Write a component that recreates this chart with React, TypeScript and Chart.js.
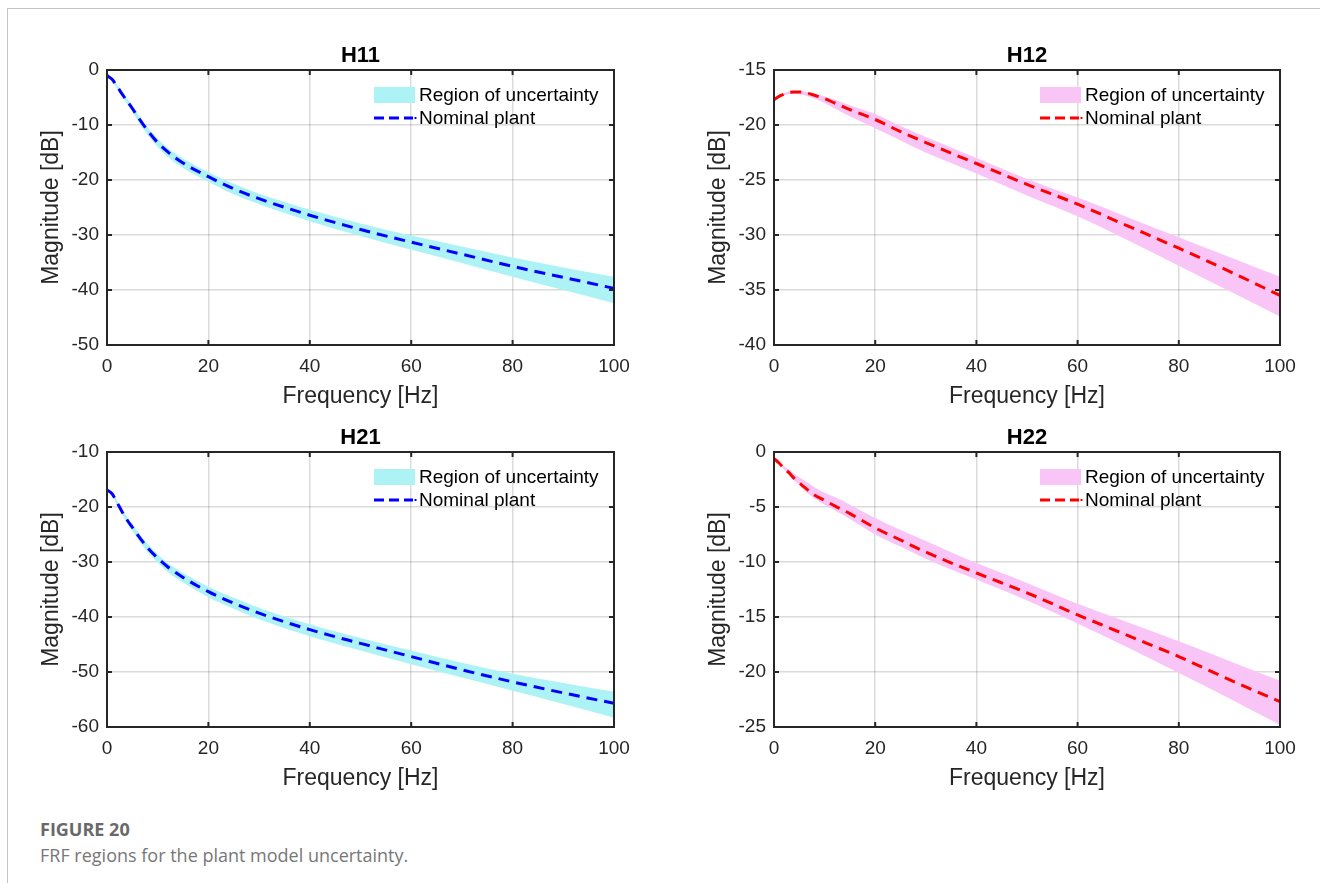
import React, { useEffect, useRef } from 'react';
import { Chart, registerables } from 'chart.js';

Chart.register(...registerables);

// ---------------- data ----------------
const FREQ = [0, 1, 2, 3, 4, 5, 6, 8, 10, 12, 15, 20, 25, 30, 40, 50, 60, 70, 80, 90, 100];
const X_TICKS = [0, 20, 40, 60, 80, 100];

const H11_NOMINAL = [-1.0, -1.7, -3.0, -4.4, -5.7, -7.0, -8.4, -11.0, -13.2, -14.9, -16.9, -19.4, -21.6, -23.4, -26.4, -29.0, -31.3, -33.5, -35.7, -37.7, -39.7];
const H11_UPPER = [-0.9, -1.5, -2.7, -4.0, -5.2, -6.5, -7.8, -10.4, -12.5, -14.2, -16.1, -18.6, -20.7, -22.5, -25.4, -27.9, -30.1, -32.1, -34.1, -35.9, -37.6];
const H11_LOWER = [-1.1, -1.9, -3.3, -4.8, -6.2, -7.6, -9.1, -11.8, -14.0, -15.8, -17.8, -20.3, -22.6, -24.4, -27.5, -30.2, -32.7, -35.1, -37.6, -40.0, -42.4];

const H12_NOMINAL = [-17.7, -17.4, -17.2, -17.05, -17.0, -17.0, -17.05, -17.3, -17.6, -18.0, -18.6, -19.5, -20.6, -21.6, -23.5, -25.4, -27.2, -29.2, -31.2, -33.3, -35.5];
const H12_UPPER = [-17.6, -17.3, -17.1, -16.95, -16.9, -16.9, -16.95, -17.15, -17.4, -17.7, -18.2, -19.0, -20.1, -21.1, -23.0, -24.9, -26.6, -28.4, -30.2, -32.0, -33.8];
const H12_LOWER = [-17.8, -17.5, -17.3, -17.2, -17.15, -17.2, -17.3, -17.6, -18.0, -18.5, -19.2, -20.3, -21.4, -22.5, -24.4, -26.4, -28.3, -30.5, -32.8, -35.1, -37.4];

const H21_NOMINAL = [-16.9, -17.6, -19.2, -20.9, -22.4, -23.7, -25.0, -27.4, -29.3, -30.9, -32.8, -35.4, -37.5, -39.3, -42.3, -44.8, -47.2, -49.6, -51.8, -53.8, -55.7];
const H21_UPPER = [-16.8, -17.4, -18.9, -20.5, -21.9, -23.2, -24.4, -26.7, -28.6, -30.2, -32.0, -34.5, -36.5, -38.3, -41.3, -43.8, -46.1, -48.3, -50.3, -52.0, -53.6];
const H21_LOWER = [-17.0, -17.9, -19.6, -21.4, -22.9, -24.3, -25.7, -28.2, -30.1, -31.8, -33.7, -36.4, -38.5, -40.4, -43.5, -46.1, -48.6, -51.0, -53.4, -55.8, -58.3];

const H22_NOMINAL = [-0.6, -1.0, -1.5, -1.9, -2.4, -2.8, -3.2, -3.9, -4.4, -4.9, -5.6, -6.9, -8.0, -9.1, -11.0, -12.8, -14.8, -16.7, -18.6, -20.7, -22.7];
const H22_UPPER = [-0.5, -0.9, -1.3, -1.6, -2.0, -2.3, -2.6, -3.2, -3.7, -4.1, -4.8, -6.0, -7.1, -8.1, -10.1, -11.9, -13.8, -15.5, -17.2, -19.0, -20.8];
const H22_LOWER = [-0.7, -1.1, -1.6, -2.1, -2.6, -3.0, -3.5, -4.2, -4.8, -5.3, -6.1, -7.5, -8.6, -9.7, -11.6, -13.5, -15.6, -17.8, -20.1, -22.4, -24.8];

const TITLES = ['H11', 'H12', 'H21', 'H22'];
const LEGEND_LABELS = ['Region of uncertainty', 'Nominal plant'];
const X_LABEL = 'Frequency [Hz]';
const Y_LABEL = 'Magnitude [dB]';
const CAPTION_HEAD = 'FIGURE 20';
const CAPTION_TEXT = 'FRF regions for the plant model uncertainty.';

// ---------------- styles ----------------
const FONT = "'Liberation Sans', Arial, Helvetica, sans-serif";
const CYAN = '#adf3f6';
const PINK = '#f8c5f6';
const BLUE = '#0000ff';
const RED = '#ff0000';
const AXIS_COLOR = '#262626';
const GRID_COLOR = 'rgba(0,0,0,0.14)';

type PanelProps = {
  title: string;
  nominal: number[];
  upper: number[];
  lower: number[];
  yMin: number;
  yMax: number;
  yStep: number;
  band: string;
  line: string;
  left: number;
  top: number;
  width: number;
  padRight: number;
};

const CANVAS_H = 430;
const PAD_TOP = 70;
const PAD_BOTTOM = 15;
const Y_AXIS_W = 107;
const X_AXIS_H = 70;

function Panel(p: PanelProps) {
  const ref = useRef<HTMLCanvasElement | null>(null);
  useEffect(() => {
    const canvas = ref.current;
    if (!canvas) return;
    const pts = (arr: number[]) => FREQ.map((f, i) => ({ x: f, y: arr[i] }));

    const framePlugin = {
      id: 'matlabFrame',
      afterDraw(chart: any) {
        const { ctx, chartArea: a, scales } = chart;
        const xs = scales.x;
        const ys = scales.y;
        ctx.save();
        // inward ticks
        ctx.strokeStyle = AXIS_COLOR;
        ctx.lineWidth = 2;
        ctx.beginPath();
        xs.ticks.forEach((t: any) => {
          const px = xs.getPixelForValue(t.value);
          ctx.moveTo(px, a.bottom);
          ctx.lineTo(px, a.bottom - 5);
          ctx.moveTo(px, a.top);
          ctx.lineTo(px, a.top + 5);
        });
        ys.ticks.forEach((t: any) => {
          const py = ys.getPixelForValue(t.value);
          ctx.moveTo(a.left, py);
          ctx.lineTo(a.left + 5, py);
          ctx.moveTo(a.right, py);
          ctx.lineTo(a.right - 5, py);
        });
        ctx.stroke();
        ctx.strokeRect(a.left, a.top, a.right - a.left, a.bottom - a.top);

        // title
        ctx.fillStyle = '#000';
        ctx.font = `bold 22px ${FONT}`;
        ctx.textAlign = 'center';
        ctx.textBaseline = 'alphabetic';
        ctx.fillText(p.title, (a.left + a.right) / 2, a.top - 8);

        // legend
        const rx = a.right - 240;
        ctx.fillStyle = p.band;
        ctx.fillRect(rx, a.top + 17, 41, 16);
        ctx.strokeStyle = p.line;
        ctx.lineWidth = 3;
        ctx.setLineDash([10, 5]);
        ctx.beginPath();
        ctx.moveTo(rx, a.top + 48);
        ctx.lineTo(rx + 39, a.top + 48);
        ctx.stroke();
        ctx.setLineDash([]);
        ctx.fillStyle = p.line;
        ctx.fillRect(rx + 40.5, a.top + 47, 2, 2);
        ctx.fillStyle = '#000';
        ctx.font = `19px ${FONT}`;
        ctx.textAlign = 'left';
        ctx.textBaseline = 'middle';
        ctx.fillText(LEGEND_LABELS[0], a.right - 195, a.top + 26);
        ctx.fillText(LEGEND_LABELS[1], a.right - 195, a.top + 49);
        ctx.restore();
      },
    };

    const chart = new Chart(canvas, {
      type: 'line',
      data: {
        datasets: [
          {
            label: LEGEND_LABELS[1],
            data: pts(p.nominal),
            borderColor: p.line,
            borderWidth: 3,
            borderDash: [11, 7],
            pointRadius: 0,
            fill: false,
            cubicInterpolationMode: 'monotone',
          },
          {
            label: 'upper',
            data: pts(p.upper),
            borderColor: 'rgba(0,0,0,0)',
            borderWidth: 0,
            backgroundColor: p.band,
            pointRadius: 0,
            fill: '+1',
            cubicInterpolationMode: 'monotone',
          },
          {
            label: 'lower',
            data: pts(p.lower),
            borderColor: 'rgba(0,0,0,0)',
            borderWidth: 0,
            pointRadius: 0,
            fill: false,
            cubicInterpolationMode: 'monotone',
          },
        ],
      } as any,
      options: {
        responsive: false,
        animation: false,
        devicePixelRatio: 1,
        events: [],
        layout: { padding: { top: PAD_TOP, right: p.padRight, bottom: PAD_BOTTOM, left: 0 } },
        plugins: {
          legend: { display: false },
          tooltip: { enabled: false },
          title: { display: false },
        },
        scales: {
          x: {
            type: 'linear',
            min: 0,
            max: 100,
            afterBuildTicks: (s: any) => {
              s.ticks = X_TICKS.map((v) => ({ value: v }));
            },
            ticks: {
              font: { family: FONT, size: 19 },
              color: AXIS_COLOR,
              padding: 10,
              maxRotation: 0,
              autoSkip: false,
            },
            grid: { color: GRID_COLOR, lineWidth: 1.5, drawTicks: false },
            border: { display: false },
            title: {
              display: true,
              text: X_LABEL,
              font: { family: FONT, size: 23 },
              color: AXIS_COLOR,
              padding: { top: 0, bottom: 4.2 },
            },
            afterFit: (s: any) => {
              s.height = X_AXIS_H;
            },
          },
          y: {
            type: 'linear',
            min: p.yMin,
            max: p.yMax,
            ticks: {
              stepSize: p.yStep,
              font: { family: FONT, size: 19 },
              color: AXIS_COLOR,
              padding: 8,
            },
            grid: { color: GRID_COLOR, lineWidth: 1.5, drawTicks: false },
            border: { display: false },
            title: {
              display: true,
              text: Y_LABEL,
              font: { family: FONT, size: 23 },
              color: AXIS_COLOR,
              padding: { top: 38.2, bottom: 0 },
            },
            afterFit: (s: any) => {
              s.width = Y_AXIS_W;
            },
          },
        },
      } as any,
      plugins: [framePlugin],
    });
    return () => chart.destroy();
  }, []);

  return (
    <canvas
      ref={ref}
      width={p.width}
      height={CANVAS_H}
      style={{ position: 'absolute', left: p.left, top: p.top, width: p.width, height: CANVAS_H }}
    />
  );
}

export default function App() {
  const panels: PanelProps[] = [
    { title: TITLES[0], nominal: H11_NOMINAL, upper: H11_UPPER, lower: H11_LOWER, yMin: -50, yMax: 0, yStep: 10, band: CYAN, line: BLUE, left: 0, top: 0, width: 660, padRight: 46 },
    { title: TITLES[1], nominal: H12_NOMINAL, upper: H12_UPPER, lower: H12_LOWER, yMin: -40, yMax: -15, yStep: 5, band: PINK, line: RED, left: 667, top: 0, width: 653, padRight: 40 },
    { title: TITLES[2], nominal: H21_NOMINAL, upper: H21_UPPER, lower: H21_LOWER, yMin: -60, yMax: -10, yStep: 10, band: CYAN, line: BLUE, left: 0, top: 382, width: 660, padRight: 46 },
    { title: TITLES[3], nominal: H22_NOMINAL, upper: H22_UPPER, lower: H22_LOWER, yMin: -25, yMax: 0, yStep: 5, band: PINK, line: RED, left: 667, top: 382, width: 653, padRight: 40 },
  ];
  return (
    <div style={{ position: 'absolute', left: 0, top: 0, width: 1320, height: 883, overflow: 'hidden', background: '#fff' }}>
      <div style={{ position: 'absolute', left: 7, top: 8, right: 0, height: 0, borderTop: '1px solid #c4c4c4' }} />
      <div style={{ position: 'absolute', left: 7, top: 8, bottom: 0, width: 0, borderLeft: '1px solid #c4c4c4' }} />
      {panels.map((p) => (
        <Panel key={p.title} {...p} />
      ))}
      <div style={{ position: 'absolute', left: 40, top: 818, fontFamily: "'Open Sans', 'Noto Sans', sans-serif", fontWeight: 700, fontSize: 18, lineHeight: '22px', color: '#696969' }}>
        {CAPTION_HEAD}
      </div>
      <div style={{ position: 'absolute', left: 40, top: 843, fontFamily: "'Open Sans', 'Noto Sans', sans-serif", fontWeight: 400, fontSize: 18, lineHeight: '24px', color: '#777' }}>
        {CAPTION_TEXT}
      </div>
    </div>
  );
}
